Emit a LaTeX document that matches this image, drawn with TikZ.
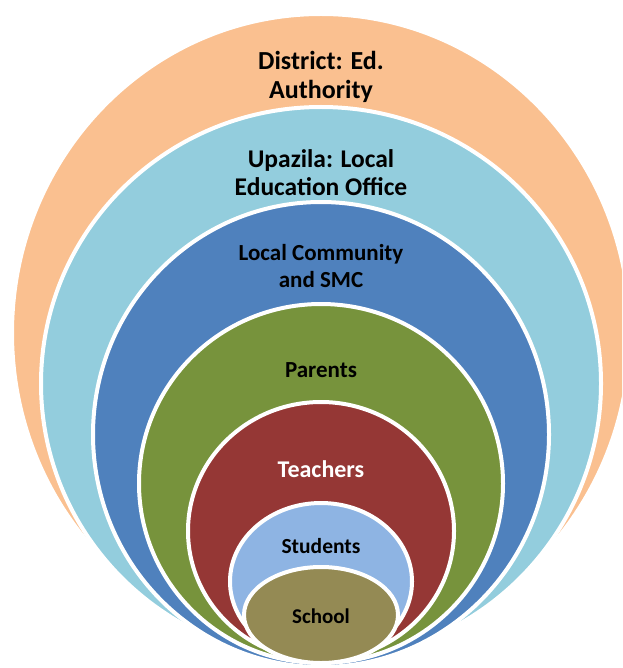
\documentclass[tikz,border=0pt]{standalone}
\usepackage{fontspec}
\setmainfont{Carlito}
\usepackage{tikz}
\usetikzlibrary{positioning}

\definecolor{ringorange}{HTML}{FAC090}
\definecolor{ringsky}{HTML}{93CDDD}
\definecolor{ringblue}{HTML}{4F81BD}
\definecolor{ringgreen}{HTML}{77933C}
\definecolor{ringred}{HTML}{953735}
\definecolor{ringpale}{HTML}{8EB4E3}
\definecolor{ringolive}{HTML}{948A54}

\begin{document}
\begin{tikzpicture}[
  x=1pt, y=-1pt,
  ring/.style={draw=white, line width=4pt},
  lbl/.style={align=center, font=\bfseries, inner sep=0pt}]
\clip (0,0) rectangle (622,668);
% rings, from the outside in
\draw[ring, fill=ringorange] (321,333) ellipse [x radius=309, y radius=319];
\draw[ring, fill=ringsky] (321,383.5) ellipse [x radius=280, y radius=276.5];
\draw[ring, fill=ringblue] (321,434.5) ellipse [x radius=228, y radius=232.5];
\draw[ring, fill=ringgreen] (321,483.5) ellipse [x radius=182, y radius=179.5];
\draw[ring, fill=ringred] (321,531) ellipse [x radius=133, y radius=129];
\draw[ring, fill=ringpale] (321,581.5) ellipse [x radius=91, y radius=78.5];
\draw[ring, fill=ringolive] (321,615) ellipse [x radius=77, y radius=48];
% labels
\node[lbl, font=\fontsize{26}{29}\selectfont\bfseries] (district) at (321,77) {District: Ed.\\Authority};
\node[lbl, font=\fontsize{25.5}{28}\selectfont\bfseries] (upazila) at (321,173) {Upazila: Local\\Education Office};
\node[lbl, font=\fontsize{23}{27}\selectfont\bfseries] (community) at (321,266) {Local Community\\and SMC};
\node[lbl, font=\fontsize{23}{25}\selectfont\bfseries] (parents) at (321,370) {Parents};
\node[lbl, font=\fontsize{24}{26}\selectfont\bfseries, text=white] (teachers) at (321,469) {Teachers};
\node[lbl, font=\fontsize{21.5}{23}\selectfont\bfseries] (students) at (321,546) {Students};
\node[lbl, font=\fontsize{21}{23}\selectfont\bfseries] (school) at (321,616) {School};
\end{tikzpicture}
\end{document}
